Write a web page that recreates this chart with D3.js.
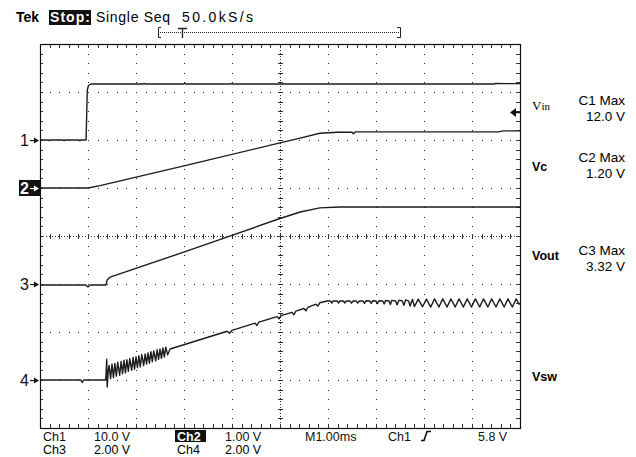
<!DOCTYPE html>
<html>
<head>
<meta charset="utf-8">
<script src="https://cdn.jsdelivr.net/npm/d3@7"></script>
<style>
  body { margin: 0; background: #fff; }
  svg { display: block; font-family: "Liberation Sans", Arial, sans-serif; }
</style>
</head>
<body>
<svg width="636" height="457"></svg>
<script>
// scope settings
var timeDomain = [0, 10];            // ms, M1.00ms/div
var channelNames = ["Vin", "Vc", "Vout", "Vsw"];
var voltsPerDiv = [10, 1, 2, 2];
var groundDiv = [2, 1, -1, -3];      // ground marker, divisions from centre

// traces, [ms, volts]
var vinPoints = [[0,0],[0.17,0],[0.2,-0.15],[0.23,0],[0.48,0],[0.5,-0.15],[0.53,0],[0.8,0],[0.83,-0.15],[0.86,0],[0.96,0],
  [0.985,10.4],[1.01,11.35],[1.06,11.67],[2.15,11.67],[2.17,11.8],[2.19,11.67],[3.0,11.67],[3.02,11.8],[3.04,11.67],
  [3.95,11.67],[3.97,11.8],[3.99,11.67],[9.45,11.67],[9.5,11.8],[9.7,11.75],[10,11.75]];

var vcPoints = [[0,0],[1.0,0],[1.25,0.05],[3.0,0.46],[5.0,0.94],[5.42,1.04],[5.83,1.14],[6.2,1.16],[6.5,1.16],
  [6.53,1.13],[6.57,1.17],[9.55,1.17],[9.65,1.19],[10,1.19]];

var voutPoints = [[0,-0.04],[0.95,-0.04],[1.0,-0.12],[1.05,-0.04],[1.375,-0.04],[1.4,0.17],[1.46,0.29],
  [3.13,1.42],[5.0,2.73],[5.42,3.0],[5.83,3.17],[6.25,3.21],[10,3.21]];

var vswPoints = [[0,0],[0.85,0],[0.88,-0.1],[0.91,0],[1.37,0],[1.39,0.87],[1.40,-0.29],[1.42,0.35],
  [1.44,0.61],[1.47,0.06],[1.50,0.66],[1.53,0.10],[1.56,0.69],[1.59,0.16],[1.62,0.74],[1.66,0.20],[1.69,0.77],
  [1.72,0.26],[1.75,0.82],[1.78,0.30],[1.81,0.85],[1.84,0.36],[1.87,0.89],[1.91,0.40],[1.94,0.94],[1.97,0.45],
  [2.00,0.97],[2.03,0.51],[2.06,1.01],[2.09,0.55],[2.12,1.06],[2.16,0.60],[2.19,1.09],[2.22,0.66],[2.25,1.13],
  [2.28,0.70],[2.31,1.18],[2.34,0.76],[2.37,1.21],[2.41,0.80],[2.44,1.26],[2.47,0.86],[2.50,1.29],[2.53,0.90],
  [2.56,1.34],[2.59,0.96],[2.62,1.37],[2.66,1.05],[2.71,1.29],
  [3.9,2.03],[3.95,1.95],[4.0,2.07],[4.48,2.37],[4.52,2.27],[4.56,2.41],[4.94,2.64],[4.98,2.55],[5.02,2.68],
  [5.25,2.82],[5.29,2.72],[5.33,2.87],[5.50,2.98],[5.54,2.88],[5.58,3.03],[5.75,3.16],[5.79,3.08],[5.83,3.22],
  [5.98,3.29],[6.05,3.29],[6.08,3.21],[6.11,3.29],[6.19,3.29],[6.22,3.21],[6.25,3.29],[6.32,3.29],[6.35,3.21],
  [6.38,3.29],[6.46,3.29],[6.49,3.20],[6.52,3.29],[6.59,3.29],[6.62,3.20],[6.65,3.29],[6.73,3.29],[6.76,3.19],
  [6.79,3.30],[6.87,3.29],[6.90,3.19],[6.93,3.30],[7.00,3.29],[7.03,3.18],[7.06,3.30],[7.14,3.29],[7.17,3.17],
  [7.20,3.31],[7.27,3.29],[7.30,3.15],[7.33,3.32],[7.41,3.29],[7.44,3.13],[7.48,3.33],[7.55,3.29],[7.58,3.11],
  [7.62,3.34],[7.68,3.29],[7.71,3.08],[7.76,3.36],[7.80,3.06],[7.88,3.37],[7.97,3.05],[8.05,3.37],[8.14,3.04],
  [8.22,3.38],[8.31,3.04],[8.39,3.38],[8.48,3.04],[8.56,3.38],[8.65,3.04],[8.73,3.38],[8.82,3.04],[8.90,3.38],
  [8.99,3.04],[9.07,3.38],[9.16,3.04],[9.24,3.38],[9.33,3.04],[9.41,3.38],[9.50,3.04],[9.58,3.38],[9.67,3.04],
  [9.75,3.38],[9.84,3.04],[9.92,3.38],[9.98,3.16],[10,3.2]];

var traces = [vinPoints, vcPoints, voutPoints, vswPoints];

// readouts
var maxLabels = [["C1 Max", "12.0 V"], ["C2 Max", "1.20 V"], ["C3 Max", "3.32 V"]];
var bottomRow1 = ["Ch1", "10.0 V", "Ch2", "1.00 V", "M1.00ms", "Ch1", "5.8 V"];
var bottomRow2 = ["Ch3", "2.00 V", "Ch4", "2.00 V"];
var triggerLevel = 5.8;  // V on Ch1

var svg = d3.select("svg");

var x = d3.scaleLinear().domain(timeDomain).range([40, 520]);
var yDiv = d3.scaleLinear().domain([-4, 4]).range([428, 44]);

function yCh(i) {
  return function(v) { return yDiv(groundDiv[i] + v / voltsPerDiv[i]); };
}

// graticule
var grid = svg.append("g").attr("class", "grid").attr("fill", "#222");
var minor = d3.range(1, 50).map(function(k) { return k * 0.2; });   // in time divs
var minorY = d3.range(1, 40).map(function(k) { return -4 + k * 0.2; });

[1, 2, 3, 4, 6, 7, 8, 9].forEach(function(t) {
  grid.selectAll(null).data(minorY).enter().append("rect")
    .attr("x", Math.round(x(t))).attr("y", function(d) { return Math.round(yDiv(d)); })
    .attr("width", 1).attr("height", 1);
});
[-3, -2, -1, 1, 2, 3].forEach(function(dv) {
  grid.selectAll(null).data(minor).enter().append("rect")
    .attr("x", function(d) { return Math.round(x(d)); }).attr("y", Math.round(yDiv(dv)))
    .attr("width", 1).attr("height", 1);
});

// centre cross: fine dots + ticks
grid.append("line").attr("x1", 40).attr("x2", 520).attr("y1", yDiv(0) + 0.5).attr("y2", yDiv(0) + 0.5)
  .attr("stroke", "#333").attr("stroke-dasharray", "1,2");
grid.append("line").attr("x1", x(5) + 0.5).attr("x2", x(5) + 0.5).attr("y1", 44).attr("y2", 428)
  .attr("stroke", "#333").attr("stroke-dasharray", "1,2");
grid.selectAll(null).data(minor).enter().append("line")
  .attr("x1", function(d) { return Math.round(x(d)) + 0.5; }).attr("x2", function(d) { return Math.round(x(d)) + 0.5; })
  .attr("y1", yDiv(0) - 2).attr("y2", yDiv(0) + 3).attr("stroke", "#333");
grid.selectAll(null).data(minorY).enter().append("line")
  .attr("y1", function(d) { return Math.round(yDiv(d)) + 0.5; }).attr("y2", function(d) { return Math.round(yDiv(d)) + 0.5; })
  .attr("x1", x(5) - 2).attr("x2", x(5) + 3).attr("stroke", "#333");

// border ticks
grid.selectAll(null).data(minor).enter().append("line")
  .attr("x1", function(d) { return Math.round(x(d)) + 0.5; }).attr("x2", function(d) { return Math.round(x(d)) + 0.5; })
  .attr("y1", 44).attr("y2", 48).attr("stroke", "#333");
grid.selectAll(null).data(minor).enter().append("line")
  .attr("x1", function(d) { return Math.round(x(d)) + 0.5; }).attr("x2", function(d) { return Math.round(x(d)) + 0.5; })
  .attr("y1", 424).attr("y2", 428).attr("stroke", "#333");
grid.selectAll(null).data(minorY).enter().append("line")
  .attr("y1", function(d) { return Math.round(yDiv(d)) + 0.5; }).attr("y2", function(d) { return Math.round(yDiv(d)) + 0.5; })
  .attr("x1", 40).attr("x2", 43).attr("stroke", "#333");
grid.selectAll(null).data(minorY).enter().append("line")
  .attr("y1", function(d) { return Math.round(yDiv(d)) + 0.5; }).attr("y2", function(d) { return Math.round(yDiv(d)) + 0.5; })
  .attr("x1", 516).attr("x2", 520).attr("stroke", "#333");

svg.append("rect").attr("x", 40.5).attr("y", 44.5).attr("width", 480).attr("height", 384)
  .attr("fill", "none").attr("stroke", "#111").attr("stroke-width", 1.2);

// traces
traces.forEach(function(pts, i) {
  var line = d3.line()
    .x(function(d) { return x(d[0]); })
    .y(function(d) { return yCh(i)(d[1]); });
  svg.append("path").datum(pts)
    .attr("d", line)
    .attr("fill", "none")
    .attr("stroke", "#1c1c1c")
    .attr("stroke-width", 1.4)
    .attr("stroke-linejoin", "round");
});

// ground markers on the left
var markers = svg.append("g");
groundDiv.forEach(function(g, i) {
  var yy = yDiv(g);
  var c = "#111";
  if (i == 1) {
    markers.append("rect").attr("x", 19).attr("y", yy - 8).attr("width", 21).attr("height", 16).attr("fill", "#111");
    c = "#fff";
  }
  markers.append("text").attr("x", 20).attr("y", yy + 6).attr("font-size", 16).attr("font-weight", i == 1 ? "bold" : "normal")
    .attr("fill", c).text(i + 1);
  markers.append("path").attr("d", "M30," + (yy + 0.5) + "H35").attr("stroke", c).attr("stroke-width", 1.2);
  markers.append("path").attr("d", "M39," + (yy + 0.5) + "L34," + (yy - 2.5) + "L34," + (yy + 3.5) + "Z").attr("fill", c);
});

// trigger level arrow (Ch1)
var ty = Math.round(yCh(0)(triggerLevel)) + 0.5;
svg.append("path").attr("d", "M510," + ty + "L516," + (ty - 4.5) + "L516," + (ty + 4.5) + "Z").attr("fill", "#111");
svg.append("path").attr("d", "M515," + ty + "H521").attr("stroke", "#111").attr("stroke-width", 1.5);

// channel names and max readouts
var labelY = [110, 171, 260, 381];
channelNames.forEach(function(n, i) {
  svg.append("text").attr("x", 532).attr("y", labelY[i])
    .attr("font-size", i == 0 ? 13 : 12.5)
    .attr("font-family", i == 0 ? "'Liberation Serif', serif" : null)
    .attr("font-weight", i == 0 ? "normal" : "bold")
    .text(i == 0 ? "V" : n)
    .append("tspan").attr("font-size", i == 0 ? 11 : null).text(i == 0 ? "in" : "");
});
var maxY = [105, 162, 255];
maxLabels.forEach(function(m, i) {
  svg.append("text").attr("x", 625).attr("y", maxY[i]).attr("text-anchor", "end").attr("font-size", 13.5).text(m[0]);
  svg.append("text").attr("x", 625).attr("y", maxY[i] + 16).attr("text-anchor", "end").attr("font-size", 13.5).text(m[1]);
});

// top status line
svg.append("text").attr("x", 16).attr("y", 22).attr("font-size", 14).attr("font-weight", "bold").text("Tek");
svg.append("rect").attr("x", 49).attr("y", 10).attr("width", 42).attr("height", 15).attr("fill", "#111");
svg.append("text").attr("x", 50).attr("y", 22).attr("font-size", 14).attr("font-weight", "bold").attr("fill", "#fff")
  .attr("textLength", 40).text("Stop:");
svg.append("text").attr("x", 96).attr("y", 22).attr("font-size", 14).attr("textLength", 74).text("Single Seq");
svg.append("text").attr("x", 182).attr("y", 22).attr("font-size", 14).attr("textLength", 71).text("50.0kS/s");

// record bracket with trigger position
var rec = svg.append("g").attr("stroke", "#222").attr("fill", "none");
rec.append("path").attr("d", "M161,27.5H158.5V37.5H161");
rec.append("path").attr("d", "M397,27.5H400.5V37.5H397");
rec.append("line").attr("x1", 160).attr("x2", 399).attr("y1", 32.5).attr("y2", 32.5).attr("stroke-dasharray", "1,1");
rec.append("path").attr("d", "M178,28.5H187M182.5,28.5V38").attr("stroke-width", 1.3);

// bottom readout
var row1X = [43, 94, 177, 225, 305, 388, 478];
var row2X = [43, 94, 177, 225];
svg.append("rect").attr("x", 175).attr("y", 430).attr("width", 31).attr("height", 12).attr("fill", "#111");
bottomRow1.forEach(function(t, i) {
  svg.append("text").attr("x", row1X[i]).attr("y", 441).attr("font-size", 12.5)
    .attr("fill", i == 2 ? "#fff" : "#111").attr("font-weight", i == 2 ? "bold" : "normal").text(t);
});
bottomRow2.forEach(function(t, i) {
  svg.append("text").attr("x", row2X[i]).attr("y", 454).attr("font-size", 12.5).text(t);
});
svg.append("path").attr("d", "M421,440.5H424L427,431.5H431").attr("stroke", "#111").attr("stroke-width", 1.6).attr("fill", "none");
</script>
</body>
</html>
